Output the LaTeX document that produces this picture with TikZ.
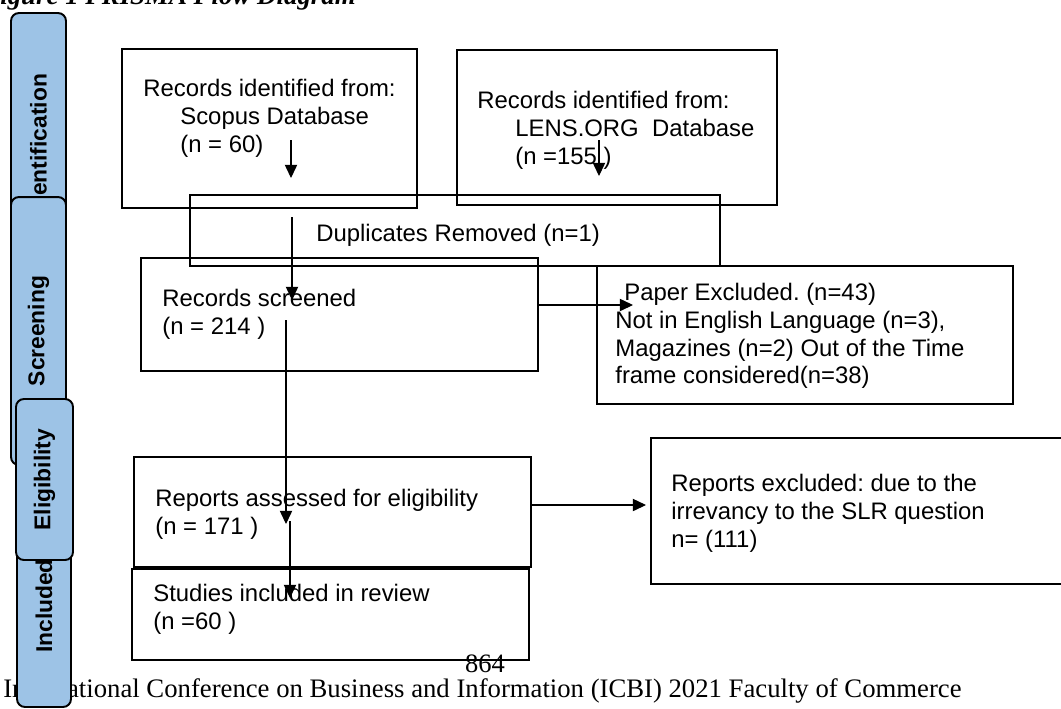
\documentclass[tikz,border=0pt]{standalone}
\usepackage{fontspec}
\setmainfont{Liberation Serif}
\setsansfont{Liberation Sans}
\usetikzlibrary{arrows.meta}
\definecolor{tabblue}{HTML}{9DC3E6}
\frenchspacing

\tikzset{
  box/.style={draw, line width=1.4pt, inner sep=0pt, anchor=north west},
  txt/.style={font=\sffamily\fontsize{13.6}{15.9}\selectfont, align=left, inner sep=0pt, anchor=north west},
  tab/.style={draw, line width=1.1pt, fill=tabblue, rounded corners=4.5pt, inner sep=0pt, rotate=90,
    font=\sffamily\bfseries\fontsize{13}{15}\selectfont},
  arr/.style={-{Triangle[length=7.5pt,width=7pt]}, line width=0.6pt},
}

\begin{document}
\begin{tikzpicture}[x=0.02cm,y=-0.02cm]
  \useasboundingbox (0,0) rectangle (1061,708);
  \clip (0,0) rectangle (1061,708);

  % page text
  \node[anchor=base west, inner sep=0pt, font=\bfseries\itshape\fontsize{15.3}{18}\selectfont] (title) at (-18,4) {Figure 1 PRISMA Flow Diagram};
  \node[anchor=base, inner sep=0pt, font=\fontsize{15.1}{18}\selectfont] (pageno) at (485,672) {864};
  \node[anchor=base west, inner sep=0pt, font=\fontsize{15.2}{18}\selectfont] (footer) at (3,697) {International Conference on Business and Information (ICBI) 2021 Faculty of Commerce};

  % stage tabs
  \node[tab, minimum width=5.28cm, minimum height=1.10cm] (tabId) at (38.5,145) {Identification};
  \node[tab, minimum width=5.36cm, minimum height=1.10cm] (tabScr) at (38.5,331) {Screening};
  \node[tab, minimum width=4.04cm, minimum height=1.08cm] (tabInc) at (44,606) {Included};
  \node[tab, minimum width=3.22cm, minimum height=1.14cm] (tabElig) at (44.5,479.5) {Eligibility};

  % boxes
  \node[box, minimum width=5.90cm, minimum height=3.18cm] (scopus) at (121,48) {};
  \node[box, minimum width=6.40cm, minimum height=3.10cm] (lens) at (456,49) {};
  \node[box, minimum width=10.60cm, minimum height=1.42cm] (dupl) at (189,194) {};
  \node[box, minimum width=7.94cm, minimum height=2.26cm] (screened) at (140,257) {};
  \node[box, minimum width=8.32cm, minimum height=2.76cm] (paperex) at (596,265) {};
  \node[box, minimum width=7.94cm, minimum height=2.20cm] (assessed) at (133,456) {};
  \node[box, minimum width=8.60cm, minimum height=2.92cm] (reportex) at (650,437) {};
  \node[box, minimum width=7.94cm, minimum height=1.82cm] (included) at (131,568) {};

  % box texts
  \node[txt] (tScopus) at (143,78.5) {Records identified from:\\\hspace*{0.74cm}Scopus Database\\\hspace*{0.74cm}(n = 60)};
  \node[txt] (tLens) at (477,90.5) {Records identified from:\\\hspace*{0.76cm}LENS.ORG\ \ Database\\\hspace*{0.76cm}(n =155 )};
  \node[txt] (tDupl) at (316,223.5) {Duplicates Removed (n=1)};
  \node[txt] (tScreened) at (162,288.5) {Records screened\\(n = 214 )};
  \node[txt] (tPaperex) at (615,282.5) {\hspace*{0.18cm}Paper Excluded. (n=43)\\Not in English Language (n=3),\\Magazines (n=2) Out of the Time\\frame considered(n=38)};
  \node[txt] (tAssessed) at (155,488.5) {Reports assessed for eligibility\\(n = 171 )};
  \node[txt] (tReportex) at (671,473.5) {Reports excluded: due to the\\irrevancy to the SLR question\\n= (111)};
  \node[txt] (tIncluded) at (153,583.5) {Studies included in review\\(n =60 )};

  % arrow ends
  \coordinate (a1) at (291,140);
  \coordinate (a2) at (291,178);
  \coordinate (b1) at (599,140);
  \coordinate (b2) at (599,176);
  \coordinate (c1) at (292,217);
  \coordinate (c2) at (292,300);
  \coordinate (d1) at (286,320);
  \coordinate (d2) at (286,524);
  \coordinate (f1) at (290,521);
  \coordinate (f2) at (290,598);
  \coordinate (e2) at (633,305);
  \coordinate (g2) at (646,505);

  \foreach \from/\to in {a1/a2,b1/b2,c1/c2,d1/d2,f1/f2}
    \draw[arr] (\from) -- (\to);
  \draw[arr] (screened.east |- e2) -- (e2);
  \draw[arr] (assessed.east |- g2) -- (g2);

\end{tikzpicture}
\end{document}
